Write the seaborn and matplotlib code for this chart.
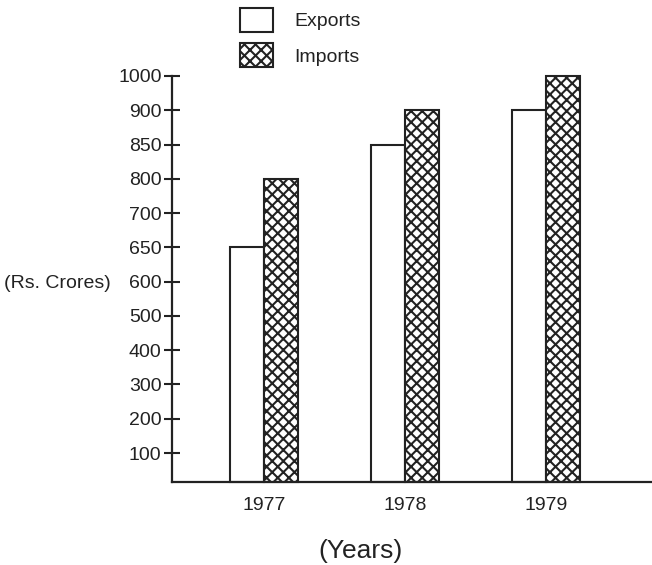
import matplotlib
matplotlib.use("Agg")
import matplotlib.pyplot as plt
import pandas as pd
import seaborn as sns
from matplotlib.patches import Patch

# dados (Rs. Crores)
years = ["1977", "1978", "1979"]
exports = [650, 850, 900]
imports = [800, 900, 1000]
# eixo y com marcas igualmente espacadas (escala nao linear)
tick_values = [100, 200, 300, 400, 500, 600, 650, 700, 800, 850, 900, 1000]

def pos(v):
    return tick_values.index(v) + 1

sns.set_style("white")
plt.rcParams["font.family"] = ["Liberation Sans", "DejaVu Sans"]
plt.rcParams["hatch.linewidth"] = 1.5
plt.rcParams["hatch.color"] = "#222222"

BASE = 0.155  # posicao da linha de base do eixo x

df = pd.DataFrame({
    "Year": years * 2,
    "Type": ["Exports"] * 3 + ["Imports"] * 3,
    "Pos": [pos(v) for v in exports] + [pos(v) for v in imports],
})

fig = plt.figure(figsize=(6.52, 5.65), dpi=100)
ax = fig.add_axes([0.2638, 0.1469, 0.7362, 0.7186])

sns.barplot(data=df, x="Year", y="Pos", hue="Type", palette=["white", "white"],
            width=0.48, edgecolor="#222222", linewidth=1.5, legend=False, ax=ax)
for bar in ax.containers[1]:
    bar.set_hatch("xxx")
for bar in ax.patches:
    # as barras partem da linha de base
    bar.set_height(bar.get_height() - BASE)
    bar.set_y(BASE)
    bar.set_clip_on(False)

fs = 14
ax.set_xlim(-0.652, 2.75)
ax.set_ylim(BASE, 12)
ax.set_yticks(range(1, 13))
ax.set_yticklabels([str(v) for v in tick_values], fontsize=fs, color="#222222")
ax.tick_params(axis="y", direction="inout", length=11, width=1.5, color="#222222", pad=2, left=True)
ax.tick_params(axis="x", length=0, pad=11, labelsize=fs, labelcolor="#222222")
ax.set_xlabel("")
ax.set_ylabel("")
for s in ["top", "right"]:
    ax.spines[s].set_visible(False)
for s in ["left", "bottom"]:
    ax.spines[s].set_linewidth(1.6)
    ax.spines[s].set_color("#222222")

fig.text(0.006, 1 - 284 / 565, "(Rs. Crores)", fontsize=fs, color="#222222", va="center")
fig.text(360 / 652, 1 - 551 / 565, "(Years)", fontsize=19, color="#222222", ha="center", va="center")

handles = [Patch(facecolor="white", edgecolor="#222222", linewidth=1.5, label="Exports"),
           Patch(facecolor="white", edgecolor="#222222", linewidth=1.5, hatch="xxx", label="Imports")]
fig.legend(handles=handles, loc="upper left", bbox_to_anchor=(240 / 652, 1 - 8 / 565),
           frameon=False, fontsize=fs, handlelength=1.7, handleheight=1.5,
           labelspacing=0.6, handletextpad=1.1, borderpad=0, borderaxespad=0,
           labelcolor="#222222")

fig.savefig("out.png", dpi=100)
